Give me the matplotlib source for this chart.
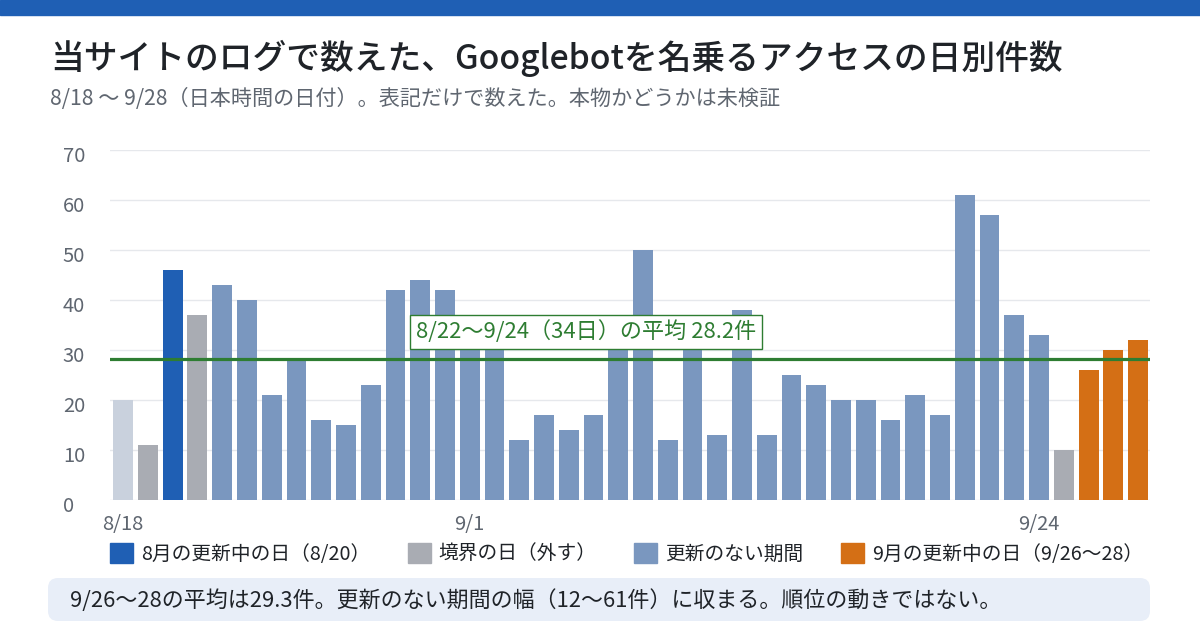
'''
Googlebot daily hit counts from the site log, 8/18 - 9/28
'''

import pandas as pd
import matplotlib.pyplot as plt
from matplotlib.patches import Patch, Rectangle, FancyBboxPatch
from matplotlib.transforms import ScaledTranslation

plt.rcParams['font.family'] = ['Noto Sans CJK JP', 'DejaVu Sans']

# --- data ---
days = pd.date_range('2025-08-18', '2025-09-28', freq='D')
day_labels = [f'{d.month}/{d.day}' for d in days]

counts = [20, 11, 46, 37,
          43, 40, 21, 28, 16, 15, 23, 42, 44, 42,
          33, 32, 12, 17, 14, 17, 32, 50, 12, 32, 13, 38, 13,
          25, 23, 20, 20, 16, 21, 17, 61, 57, 37, 33,
          10, 26, 30, 32]

# kind of each day: pre = before window, edge = boundary day (excluded)
kinds = ['pre', 'edge', 'aug', 'edge'] + ['none'] * 34 + ['edge'] + ['sep'] * 3

tick_days = ['8/18', '9/1', '9/24']

legend_kinds = ['aug', 'edge', 'none', 'sep']
legend_labels = ['8月の更新中の日（8/20）', '境界の日（外す）',
                 '更新のない期間', '9月の更新中の日（9/26〜28）']

title = '当サイトのログで数えた、Googlebotを名乗るアクセスの日別件数'
subtitle = '8/18 ～ 9/28（日本時間の日付）。表記だけで数えた。本物かどうかは未検証'
note = '9/26〜28の平均は29.3件。更新のない期間の幅（12〜61件）に収まる。順位の動きではない。'

# --- styles ---
colors = {'pre': '#c9d1dd', 'edge': '#a9acb3', 'aug': '#1f5fb4',
          'none': '#7a97bf', 'sep': '#d46f15'}
green = '#2e7d32'
dark = '#1f2328'
gray = '#5f6670'

# mean over the no-update window 8/22 - 9/24
window = pd.Series(counts, index=day_labels).loc['8/22':'9/24']
avg = window.mean()

W, H = 1200, 630
fig = plt.figure(figsize=(W / 100, H / 100), dpi=100)

def fx(x):
    return x / W

def fy(y):
    return 1 - y / H

# top band
fig.patches.append(Rectangle((0, fy(15)), 1, 15 / H, transform=fig.transFigure,
                             color='#1f5fb4', zorder=0))

fig.text(fx(50), fy(58), title, fontsize=24.3, weight='medium', color=dark, va='center')
fig.text(fx(50), fy(99), subtitle, fontsize=15.2, color=gray, va='center')

ax = fig.add_axes([fx(110), fy(500), 1040 / W, 350 / H])
x = range(len(counts))
ax.bar(x, counts, width=0.8, color=[colors[k] for k in kinds], zorder=2)

ax.axhline(avg, color=green, linewidth=2.3, zorder=3)
ax.text((416 - 110) / 1040, (500 - 332) / 350,
        f'{window.index[0]}〜{window.index[-1]}（{len(window)}日）の平均 {avg:.1f}件',
        transform=ax.transAxes, fontsize=15.9, color=green, va='center', ha='left',
        zorder=4,
        bbox=dict(boxstyle='square,pad=0.25', fc='white', ec=green, lw=1))

ax.set_xlim(-0.53, len(counts) - 0.52)
ax.set_ylim(0, 70)
ax.set_yticks(range(0, 71, 10))
ax.set_xticks([day_labels.index(t) for t in tick_days])
ax.set_xticklabels(tick_days)
ax.tick_params(axis='y', length=0, pad=34, labelsize=14.5, labelcolor=gray)
ax.tick_params(axis='x', length=0, pad=10, labelsize=14.5, labelcolor=gray)
shift = ScaledTranslation(0, -4 / 100, fig.dpi_scale_trans)
for lab in ax.get_yticklabels():
    lab.set_horizontalalignment('left')
    lab.set_transform(lab.get_transform() + shift)
ax.grid(axis='y', color='#e6e8ec', linewidth=1)
ax.set_axisbelow(True)
for s in ax.spines.values():
    s.set_visible(False)

# legend
handles = [Patch(color=colors[k]) for k in legend_kinds]
fig.legend(handles, legend_labels, loc='upper left', bbox_to_anchor=(fx(110), fy(543)),
           ncol=4, frameon=False, fontsize=14.2, handlelength=1.17, handleheight=1.17,
           handletextpad=0.4, columnspacing=1.9, borderpad=0, borderaxespad=0,
           labelcolor=dark)

# note box
r = 0.1
fig.patches.append(FancyBboxPatch((0.48 + r, (H - 621) / 100 + r), 11.02 - 2 * r, 0.43 - 2 * r,
                                  boxstyle=f'round,pad={r}', transform=fig.dpi_scale_trans,
                                  fc='#e8eef8', ec='none', zorder=0))
fig.text(fx(70), fy(601), note, fontsize=15.8, color=dark, va='center')

plt.savefig('out.png', dpi=100)
